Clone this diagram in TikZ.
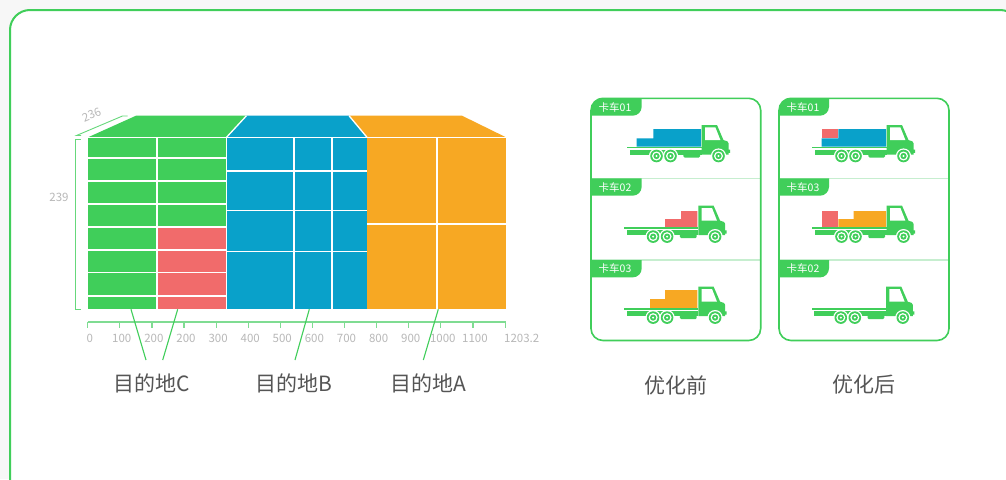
\documentclass[tikz,border=0pt]{standalone}
\usepackage{fontspec}
\setmainfont{Noto Sans CJK SC}
\usetikzlibrary{calc}

\definecolor{brandgreen}{HTML}{40CE5A}
\definecolor{cargoblue}{HTML}{09A1CA}
\definecolor{cargoorange}{HTML}{F7A823}
\definecolor{cargored}{HTML}{F16B6B}
\definecolor{axisgreen}{HTML}{7FDC92}
\definecolor{sepgreen}{HTML}{C6EECF}
\definecolor{labelgray}{HTML}{555555}
\definecolor{tickgray}{HTML}{B8B8B8}
\definecolor{pagebg}{HTML}{F7F7F7}

\tikzset{
  gridline/.style={white, line width=1.3},
  dimline/.style={brandgreen!80, line width=0.9},
  dimtext/.style={text=tickgray, font=\fontsize{11.5}{12}\selectfont, inner sep=0},
  ticktext/.style={text=tickgray, font=\fontsize{11.5}{12}\selectfont, inner sep=0},
  leader/.style={brandgreen, line width=1.1},
  desttext/.style={text=labelgray, font=\fontsize{21}{22}\selectfont, inner sep=0},
  tagtext/.style={text=white, font=\fontsize{10.5}{11}\selectfont, inner sep=0},
  panelbox/.style={draw=brandgreen, line width=1.6, rounded corners=12},
  sepline/.style={sepgreen, line width=1.5},
  truck/.pic={
    % flat bed and chassis
    \fill[brandgreen] (-74.4,0) rectangle (0,1.4);
    \fill[brandgreen] (-71.7,2.8) rectangle (0,7.8);
    % fuel tank
    \fill[brandgreen, rounded corners=1.2] (-18.4,6) rectangle (-1.7,10.8);
    % cab
    \fill[brandgreen] (0,-21.7) -- (15.3,-21.7) -- (21.8,-6.6) -- (25.6,-5.4)
      .. controls (26.8,-5) .. (26.8,-3.5) -- (26.8,3) -- (28.4,3) -- (28.4,6.2)
      -- (26.8,6.2) -- (26.8,7.8) -- (0,7.8) -- cycle;
    % window
    \fill[white] (3.3,-19.3) -- (13.7,-19.3) -- (18.7,-6.6) -- (3.3,-6.6) -- cycle;
    % wheels
    \foreach \wx in {-45.2,-31.2,16.8} {
      \fill[white] (\wx,9.3) circle (7.6);
      \fill[brandgreen] (\wx,9.3) circle (6.3);
      \fill[white] (\wx,9.3) circle (4.5);
      \fill[brandgreen] (\wx,9.3) circle (3.1);
      \fill[white] (\wx,9.3) circle (1.1);
    }
  }
}

\begin{document}
\begin{tikzpicture}[x=1pt, y=-1pt]
\useasboundingbox (0,0) rectangle (1006,479);
\fill[pagebg] (0,0) rectangle (1006,479);
\draw[brandgreen, line width=2, fill=white, rounded corners=20] (10,10) rectangle (1020,500);

% ---------- container: top faces ----------
\fill[brandgreen]  (88,137.3) -- (136,115.7) -- (246.5,115.7) -- (226.5,137.3) -- cycle;
\fill[cargoblue]   (226.5,137.3) -- (246.5,115.7) -- (349,115.7) -- (367,137.3) -- cycle;
\fill[cargoorange] (367,137.3) -- (349,115.7) -- (462,115.7) -- (506,137.3) -- cycle;

% ---------- container: front faces ----------
\fill[brandgreen]  (88,137.3) rectangle (226.5,309.3);
\fill[cargored]    (157,227) rectangle (226.5,309.3);
\fill[cargoblue]   (226.5,137.3) rectangle (367,309.3);
\fill[cargoorange] (367,137.3) rectangle (506,309.3);

% grid lines
\draw[gridline] (88,137.3) -- (506,137.3);
\draw[gridline] (226.5,137.3) -- (246.5,115.7);
\draw[gridline] (367,137.3) -- (349,115.7);
\foreach \gy in {158,181,204,227,250,272.5,296}
  \draw[gridline] (88,\gy) -- (226.5,\gy);
\draw[gridline] (157,137.3) -- (157,309.3);
\draw[gridline] (226.5,137.3) -- (226.5,309.3);
\foreach \gy in {171,210.5,251.5}
  \draw[gridline] (226.5,\gy) -- (367,\gy);
\foreach \gx in {294,332}
  \draw[gridline] (\gx,137.3) -- (\gx,309.3);
\draw[gridline] (437,137.3) -- (437,309.3);
\draw[gridline] (367,224) -- (506,224);

% ---------- dimensions ----------
\draw[dimline] (80.7,139.3) -- (75.7,139.3) -- (75.7,309.3) -- (80.7,309.3);
\draw[dimline] (81,135.5) -- (76.5,135.5) -- (122.5,116) -- (127.5,116);
\node[dimtext] (hgt) at (59,197) {239};
\node[dimtext, rotate=23] (dep) at (91.5,114.5) {236};

% ---------- axis ----------
\coordinate (axL) at (87.7,322);
\coordinate (axR) at (505.7,322);
\draw[axisgreen, line width=1.5] (axL) -- (axR);
\foreach \lab [count=\k from 0] in {0,100,200,200,300,400,500,600,700,800,900,1000,1100} {
  \pgfmathsetmacro{\tx}{87.7+32.1*\k}
  \draw[axisgreen, line width=1.2] (\tx,322) -- (\tx,327.5);
  \node[ticktext] (tick\k) at (\tx+2,338.3) {\lab};
}
\draw[axisgreen, line width=1.2] (505.7,322) -- (505.7,327.5);
\node[ticktext, anchor=west] (tick13) at (504,338.3) {1203.2};

% ---------- destination labels ----------
\node[desttext] (destC) at (152,383.5) {目的地C};
\node[desttext] (destB) at (294,383.5) {目的地B};
\node[desttext] (destA) at (428.5,383.5) {目的地A};
\coordinate (c1a) at (131,309.3);   \coordinate (c1b) at (146,360);
\coordinate (c2a) at (177.7,309.3); \coordinate (c2b) at (162.7,360);
\coordinate (b1a) at (309.3,309.3); \coordinate (b1b) at (295,360);
\coordinate (a1a) at (438.3,309.3); \coordinate (a1b) at (423.3,360);
\draw[leader] (c1a) -- (c1b);
\draw[leader] (c2a) -- (c2b);
\draw[leader] (b1a) -- (b1b);
\draw[leader] (a1a) -- (a1b);

% ---------- panel: before ----------
\draw[sepline] (591,178.3) -- (760.7,178.3);
\draw[sepline] (591,260) -- (760.7,260);
\fill[brandgreen] (591,115.7) -- (591,110.3) arc (180:270:12) -- (641.7,98.3) -- (641.7,106.7) arc (0:90:9) -- cycle;
\fill[brandgreen] (591,178.3) -- (641.7,178.3) -- (641.7,186.7) arc (0:90:9) -- (591,195.7) -- cycle;
\fill[brandgreen] (591,260) -- (641.7,260) -- (641.7,268.4) arc (0:90:9) -- (591,277.4) -- cycle;
\draw[panelbox] (591,98.3) rectangle (760.7,340.5);
\node[tagtext] (tagB1) at (615,107.2) {卡车01};
\node[tagtext] (tagB2) at (615,187.2) {卡车02};
\node[tagtext] (tagB3) at (615,268.9) {卡车03};

\fill[cargoblue] (636.7,146.7) -- (636.7,138.3) -- (653.3,138.3) -- (653.3,129) -- (701,129) -- (701,146.7) -- cycle;
\pic (trkB1) at (701.7,146.7) {truck};
\fill[cargored] (665,227.3) -- (665,219) -- (681,219) -- (681,211) -- (697.3,211) -- (697.3,227.3) -- cycle;
\pic (trkB2) at (698.3,227.3) {truck};
\fill[cargoorange] (650,308.3) -- (650,299) -- (665,299) -- (665,290) -- (697.3,290) -- (697.3,308.3) -- cycle;
\pic (trkB3) at (698.3,308.3) {truck};

% ---------- panel: after ----------
\draw[sepline] (779,178.3) -- (949,178.3);
\draw[sepline] (779,260) -- (949,260);
\fill[brandgreen] (779,115.7) -- (779,110.3) arc (180:270:12) -- (829,98.3) -- (829,106.7) arc (0:90:9) -- cycle;
\fill[brandgreen] (779,178.3) -- (829,178.3) -- (829,186.7) arc (0:90:9) -- (779,195.7) -- cycle;
\fill[brandgreen] (779,260) -- (829,260) -- (829,268.4) arc (0:90:9) -- (779,277.4) -- cycle;
\draw[panelbox] (779,98.3) rectangle (949,340.5);
\node[tagtext] (tagA1) at (803,107.2) {卡车01};
\node[tagtext] (tagA2) at (803,187.2) {卡车03};
\node[tagtext] (tagA3) at (803,268.9) {卡车02};

\fill[cargoblue] (821.7,146.7) -- (821.7,138.3) -- (838.3,138.3) -- (838.3,129) -- (886,129) -- (886,146.7) -- cycle;
\fill[cargored] (821.7,129) rectangle (838.3,138.3);
\pic (trkA1) at (886.7,146.7) {truck};
\fill[cargored] (821.7,211) rectangle (838.3,227.3);
\fill[cargoorange] (838.3,227.3) -- (838.3,219) -- (853.5,219) -- (853.5,211) -- (886,211) -- (886,227.3) -- cycle;
\pic (trkA2) at (886.7,227.3) {truck};
\pic (trkA3) at (886,308.3) {truck};

% ---------- captions ----------
\node[desttext] (capBefore) at (676,385) {优化前};
\node[desttext] (capAfter) at (864,385) {优化后};
\end{tikzpicture}
\end{document}
